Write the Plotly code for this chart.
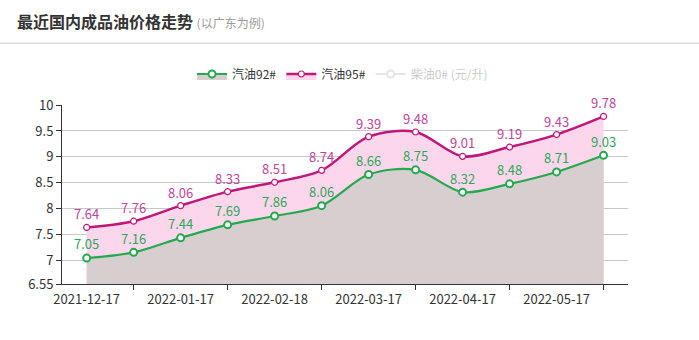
import plotly.graph_objects as go

dates = ["2021-12-17", "2021-12-31", "2022-01-17", "2022-01-29", "2022-02-18", "2022-03-04",
         "2022-03-17", "2022-03-31", "2022-04-17", "2022-04-29", "2022-05-17", "2022-05-31"]
gas92 = [7.05, 7.16, 7.44, 7.69, 7.86, 8.06, 8.66, 8.75, 8.32, 8.48, 8.71, 9.03]
gas95 = [7.64, 7.76, 8.06, 8.33, 8.51, 8.74, 9.39, 9.48, 9.01, 9.19, 9.43, 9.78]
diesel0 = [None]  # hidden series (values not shown in the chart)
y_ticks = [6.55, 7, 7.5, 8, 8.5, 9, 9.5, 10]
y_tick_text = ["6.55", "7", "7.5", "8", "8.5", "9", "9.5", "10"]

FONT = "Noto Sans CJK SC, Microsoft YaHei, sans-serif"
C95 = "#c0177a"
C92 = "#25a94f"

T, B = 105, 56
PH = 340 - T - B

fig = go.Figure()
fig.add_trace(go.Scatter(
    x=dates, y=gas95, name="汽油95#", mode="lines+markers+text", legendrank=2,
    line=dict(color=C95, width=2.5, shape="spline", smoothing=0.9),
    marker=dict(size=6, color="white", line=dict(color=C95, width=1.2)),
    fill="tozeroy", fillcolor="#fcd6ea",
    text=[f"{v:.2f}" for v in gas95], textposition="top center",
    textfont=dict(color="#c2449a", size=13, family=FONT),
    cliponaxis=False,
))
fig.add_trace(go.Scatter(
    x=dates, y=gas92, name="汽油92#", mode="lines+markers+text", legendrank=1,
    line=dict(color=C92, width=2.2, shape="spline", smoothing=0.9),
    marker=dict(size=7, color="white", line=dict(color=C92, width=2)),
    fill="tozeroy", fillcolor="#d7cfcf",
    text=[f"{v:.2f}" for v in gas92], textposition="top center",
    textfont=dict(color="#2ea85a", size=13, family=FONT),
    cliponaxis=False,
))
fig.add_trace(go.Scatter(
    x=dates[:len(diesel0)], y=diesel0,
    name="<span style='color:#999'>柴油0# (元/升)</span>", mode="lines+markers", legendrank=3,
    line=dict(color="#cccccc", width=2), marker=dict(size=7, color="white", line=dict(color="#cccccc", width=2)),
    visible="legendonly",
))
# invisible carrier so the label axis (x2) is drawn
fig.add_trace(go.Scatter(
    x=dates, y=gas92, xaxis="x2", mode="markers", marker=dict(opacity=0),
    showlegend=False, hoverinfo="skip",
))

xr = [-0.525, 11.52]
fig.update_layout(
    width=699, height=340,
    margin=dict(l=62, r=71, t=T, b=B, autoexpand=False),
    paper_bgcolor="white", plot_bgcolor="white",
    font=dict(family=FONT, color="#333", size=12),
    title=dict(
        text="<b>最近国内成品油价格走势</b> <span style='font-size:12px;color:#9a9a9a'>(以广东为例)</span>",
        x=17/699, xanchor="left", xref="container",
        y=1-22/340, yanchor="middle", yref="container",
        font=dict(size=16, color="#333", family=FONT),
    ),
    showlegend=True,
    legend=dict(
        orientation="h", xref="container", yref="container",
        x=0.49, xanchor="center", y=1-74/340, yanchor="middle",
        font=dict(size=12, color="#333", family=FONT),
        traceorder="normal", itemwidth=30,
    ),
    xaxis=dict(
        type="category", categoryorder="array", categoryarray=dates,
        range=xr, showgrid=False, zeroline=False,
        showline=True, linecolor="#333", linewidth=1,
        tickvals=dates[1::2], ticktext=[""] * len(dates[1::2]),
        ticks="outside", ticklen=5, tickcolor="#333",
    ),
    xaxis2=dict(
        type="category", categoryorder="array", categoryarray=dates,
        overlaying="x", anchor="y", side="bottom", range=xr,
        showgrid=False, zeroline=False, showline=False,
        tickvals=dates[0::2], ticktext=dates[0::2],
        ticks="outside", ticklen=3, tickcolor="rgba(0,0,0,0)",
        tickfont=dict(size=13, color="#333", family=FONT),
    ),
    yaxis=dict(
        range=[6.55, 10], tickvals=y_ticks, ticktext=y_tick_text,
        showgrid=True, gridcolor="#c8c8c8", gridwidth=1, zeroline=False,
        showline=True, linecolor="#333", linewidth=1,
        ticks="outside", ticklen=5, tickcolor="#333",
        tickfont=dict(size=13, color="#333", family=FONT),
    ),
    shapes=[dict(
        type="line", xref="paper", yref="paper",
        x0=-62/566, x1=637/566, y0=(340 - B - 43.3)/PH, y1=(340 - B - 43.3)/PH,
        line=dict(color="#dcdcdc", width=1.5),
    )],
)

fig.write_html("out.html")
